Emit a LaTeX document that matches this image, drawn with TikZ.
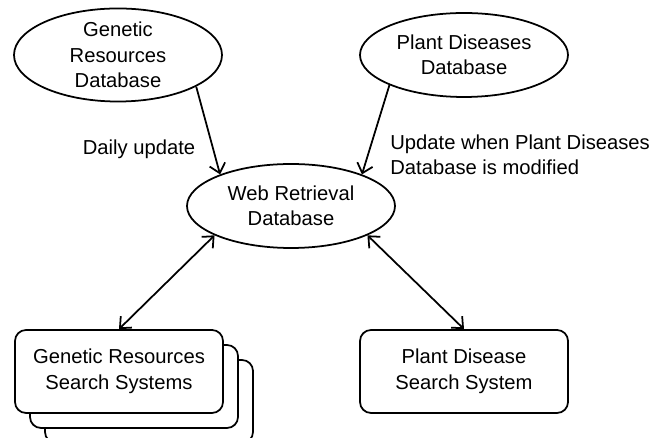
\documentclass[tikz,border=0pt]{standalone}
\usepackage{fontspec}
\setmainfont{Liberation Sans}
\usepackage{tikz}
\usetikzlibrary{shapes.geometric, arrows.meta}
\tikzstyle{database} = [ellipse, minimum width=4.16cm, minimum height=1.68cm, inner sep=0pt, text centered, align=center, draw=black, line width=1pt, fill=white]
\tikzstyle{searchbox} = [rectangle, rounded corners=0.22cm, minimum width=4.16cm, minimum height=1.66cm, text centered, align=center, draw=black, line width=1pt, fill=white]
\tikzstyle{label} = [align=left, inner sep=0pt]
\tikzstyle{arrow} = [line width=1pt, ->, >={Straight Barb[length=1.8mm,width=3.2mm]}]
\tikzstyle{twoway} = [line width=1pt, <->, >={Straight Barb[length=1.8mm,width=3.2mm]}]

\begin{document}
\begin{tikzpicture}[node distance=1cm, font=\fontsize{11.5}{14.5}\selectfont]
           \useasboundingbox (0,0) rectangle (13.02,-8.76);
           \node (web) [database] at (5.82,-4.12) {Web Retrieval\\Database};
           \node (gdb) [database, above of=web, xshift=-3.46cm, yshift=2.02cm] {Genetic\\Resources\\Database};
           \node (pdb) [database, above of=web, xshift=3.46cm, yshift=2.02cm] {Plant Diseases\\Database};
           \node (gss3) [searchbox, below of=web, xshift=-2.84cm, yshift=-2.91cm] {};
           \node (gss2) [searchbox, below of=web, xshift=-3.14cm, yshift=-2.61cm] {};
           \node (gss) [searchbox, below of=web, xshift=-3.44cm, yshift=-2.31cm] {Genetic Resources\\Search Systems};
           \node (pds) [searchbox, below of=web, xshift=3.46cm, yshift=-2.31cm] {Plant Disease\\Search System};
           \node (daily) [label] at (2.78,-2.98) {Daily update};
           \node (upd) [label, anchor=west] at (7.80,-3.10) {Update when Plant Diseases\\Database is modified};

           \draw [arrow] (gdb.-22) -- (web.156);
           \draw [arrow] (pdb.-158) -- (web.24);
           \draw [twoway] (web.-159) -- (gss.north);
           \draw [twoway] (web.-21) -- (pds.north);
        \end{tikzpicture}
\end{document}
